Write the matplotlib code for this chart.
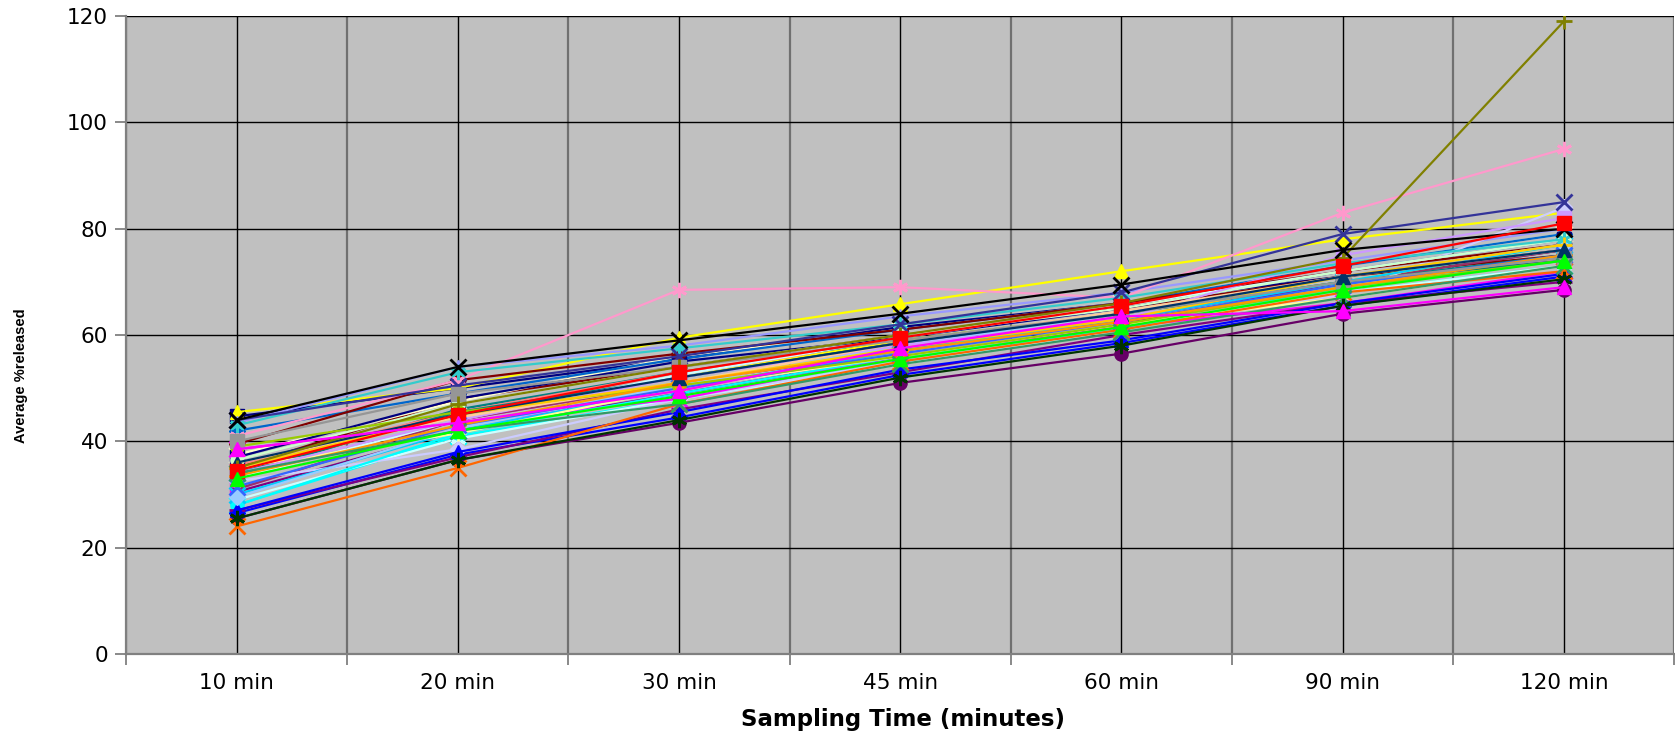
import numpy as np
import matplotlib
matplotlib.use("Agg")
import matplotlib.pyplot as plt

# sampling points (categories on x)
times = ["10 min", "20 min", "30 min", "45 min", "60 min", "90 min", "120 min"]

# Excel 2003 style auto colours / markers, one entry per series
colors = ["#000080", "#FF00FF", "#FFFF00", "#00FFFF", "#800080", "#800000", "#008080",
          "#0000FF", "#9999FF", "#993366", "#FFFFCC", "#CCFFFF", "#660066", "#FF8080",
          "#0066CC", "#CCCCFF", "#000080", "#FF00FF", "#FFFF00", "#00FFFF", "#800080",
          "#800000", "#008080", "#0000FF", "#00CCFF", "#CCFFFF", "#CCFFCC", "#FFFF99",
          "#99CCFF", "#FF99CC", "#CC99FF", "#FFCC99", "#3366FF", "#33CCCC", "#99CC00",
          "#FFCC00", "#FF9900", "#FF6600", "#333399", "#969696", "#003366", "#339966",
          "#003300", "#808000", "#000000", "#FF0000", "#00FF00", "#FF00FF"]
markers = ["s", "s", "^", "x", "ast", "o", "+",
           "D", "^", "^", "x", "ast", "o", "+",
           "D", "D", "s", "x", "ast", "o", "+",
           "D", "s", "^", "x", "ast", "o", "+",
           "D", "ast", "s", "^", "x", "ast", "o",
           "+", "D", "x", "x", "s", "^", "x",
           "ast", "+", "x", "s", "^", "^"]

# average % released per sample
released = [
    [44.7, 50.0, 55.5, 61.5, 66.0, 71.0, 76.0],
    [31.0, 44.0, 51.0, 57.0, 63.0, 70.0, 74.0],
    [45.5, 50.0, 59.5, 65.8, 72.0, 78.0, 83.0],
    [28.0, 41.0, 48.0, 55.0, 61.0, 68.0, 73.0],
    [30.5, 42.0, 49.0, 56.0, 62.0, 70.0, 76.0],
    [35.0, 48.0, 54.0, 60.0, 65.0, 71.0, 75.0],
    [33.5, 46.0, 53.0, 59.0, 64.0, 70.0, 75.0],
    [26.5, 37.5, 44.5, 52.5, 58.5, 65.5, 71.0],
    [43.5, 54.0, 58.0, 63.5, 68.0, 74.0, 80.0],
    [31.0, 44.0, 51.0, 57.0, 63.0, 70.0, 76.0],
    [37.5, 47.5, 56.0, 61.0, 66.0, 73.0, 79.0],
    [29.0, 40.5, 48.0, 54.5, 61.0, 68.0, 73.0],
    [25.5, 36.5, 43.5, 51.0, 56.5, 64.0, 68.5],
    [35.5, 45.5, 53.0, 58.5, 64.0, 71.0, 77.0],
    [42.0, 49.0, 55.5, 61.0, 66.0, 73.0, 79.0],
    [32.5, 38.5, 48.0, 55.0, 62.0, 67.5, 84.0],
    [37.0, 48.0, 55.0, 59.5, 65.0, 72.0, 78.0],
    [38.5, 43.5, 48.0, 56.0, 61.5, 66.0, 72.0],
    [34.5, 45.0, 52.0, 59.0, 64.0, 70.0, 77.0],
    [28.0, 41.5, 49.0, 56.0, 61.0, 69.0, 74.0],
    [27.0, 37.0, 46.0, 53.0, 60.0, 66.0, 70.0],
    [39.5, 51.5, 56.5, 61.0, 66.0, 72.0, 77.0],
    [34.0, 45.5, 52.0, 58.5, 64.0, 70.0, 74.0],
    [27.0, 38.0, 45.5, 53.5, 59.0, 66.0, 71.5],
    [30.0, 42.0, 50.0, 57.0, 63.0, 70.0, 77.0],
    [33.0, 44.0, 52.5, 59.5, 65.5, 72.0, 78.0],
    [36.5, 47.0, 54.0, 60.0, 65.0, 72.0, 78.0],
    [35.0, 41.5, 50.0, 56.0, 62.0, 67.0, 73.0],
    [29.5, 42.5, 50.5, 58.0, 64.0, 71.0, 77.0],
    [41.0, 51.5, 68.5, 69.0, 67.0, 83.0, 95.0],
    [34.0, 44.0, 52.0, 58.0, 63.0, 75.0, 82.0],
    [36.0, 44.5, 51.0, 58.5, 64.5, 71.0, 76.0],
    [31.5, 43.0, 50.0, 56.5, 62.5, 69.5, 75.0],
    [43.0, 53.0, 57.5, 62.0, 67.0, 73.5, 78.0],
    [39.0, 45.5, 50.5, 56.0, 62.0, 69.0, 74.0],
    [35.0, 45.0, 51.0, 57.5, 63.0, 71.0, 77.0],
    [33.5, 43.0, 51.0, 57.0, 62.5, 69.0, 75.0],
    [24.0, 35.0, 47.0, 55.0, 61.0, 68.0, 72.0],
    [44.0, 50.5, 56.0, 62.0, 68.0, 79.0, 85.0],
    [40.0, 49.0, 54.0, 59.0, 64.0, 70.0, 74.5],
    [36.0, 45.0, 52.0, 58.5, 64.0, 71.0, 76.0],
    [34.0, 42.0, 47.0, 54.5, 60.5, 67.0, 73.0],
    [25.5, 36.5, 44.0, 52.0, 58.0, 65.5, 70.5],
    [35.0, 47.0, 54.0, 60.0, 66.0, 74.5, 119.0],
    [44.0, 54.0, 59.0, 64.0, 69.5, 76.0, 80.0],
    [34.5, 45.0, 53.0, 59.5, 65.5, 73.0, 81.0],
    [33.0, 42.0, 48.5, 55.5, 61.5, 68.5, 74.0],
    [38.5, 43.5, 49.5, 57.5, 63.5, 64.5, 69.0],
]

asterisk = (6, 2, 0)

fig = plt.figure(figsize=(16.75, 7.36), dpi=100, facecolor="white")
ax = fig.add_axes([0.0752, 0.1114, 0.9245, 0.8668], facecolor="#C0C0C0")

x = np.arange(len(times))
for vals, c, m in zip(released, colors, markers):
    mk = asterisk if m == "ast" else m
    filled = m in ("D", "s", "^", "o")
    ax.plot(x, vals, color=c, linewidth=1.6, marker=mk,
            markersize=(8 if m == "D" else 9.5) if filled else 11,
            markeredgewidth=1.0 if filled else 2.0, markerfacecolor=c, markeredgecolor=c,
            zorder=3)

ax.set_xlim(-0.5, len(times) - 0.5)
ax.set_ylim(0, 120)
ax.set_yticks(np.arange(0, 121, 20))

# category labels at centres, tick marks at the boundaries
ax.set_xticks(x)
ax.set_xticklabels(times)
ax.set_xticks(np.arange(-0.5, len(times), 1.0), minor=True)
ax.tick_params(axis="x", which="major", length=0, pad=14, labelsize=15.5)
ax.tick_params(axis="x", which="minor", length=8, width=1.3, color="#808080")
ax.tick_params(axis="y", length=8, width=1.3, color="#808080", pad=5, labelsize=15.5)

ax.grid(True, which="major", axis="both", color="black", linewidth=1.0, zorder=1)
ax.grid(True, which="minor", axis="x", color="#707070", linewidth=1.6, zorder=1)
ax.set_axisbelow(True)

for side in ("top", "right"):
    ax.spines[side].set_visible(False)
for side in ("left", "bottom"):
    ax.spines[side].set_color("#808080")
    ax.spines[side].set_linewidth(1.6)

ax.set_xlabel("Sampling Time (minutes)", fontsize=16.5, fontweight="bold")
ax.xaxis.label.set_va("center")
ax.xaxis.set_label_coords(0.5016, -0.102)
ax.set_ylabel("Average %released", fontsize=10.5, fontweight="bold",
              family=["Liberation Sans Narrow", "Liberation Sans"])
ax.yaxis.label.set_va("center")
ax.yaxis.set_label_coords(-0.0678, 0.436)

fig.savefig("out.png", dpi=100, facecolor="white")
